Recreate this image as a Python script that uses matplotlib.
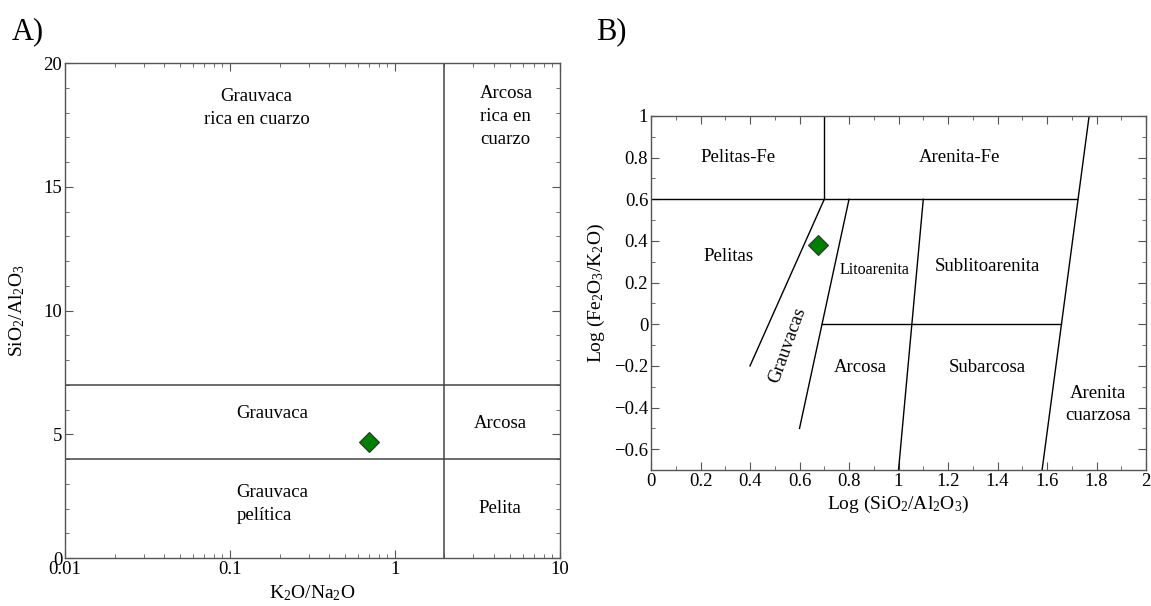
import matplotlib.pyplot as plt
import numpy as np

plt.rcParams['font.family'] = ['Liberation Serif', 'DejaVu Serif']
plt.rcParams['mathtext.fontset'] = 'custom'
plt.rcParams['mathtext.rm'] = 'Liberation Serif'
plt.rcParams['mathtext.it'] = 'Liberation Serif:italic'

# A) K2O/Na2O vs SiO2/Al2O3 (log x)
a_sample_x = [0.70]
a_sample_y = [4.7]
a_hlines = [7, 4]          # boundaries in SiO2/Al2O3
a_vline = 2                # boundary in K2O/Na2O
a_labels = [
    ("Grauvaca\nrica en cuarzo", 0.145, 18.2, 'center'),
    ("Arcosa\nrica en\ncuarzo", 3.3, 17.85, 'left'),
    ("Grauvaca", 0.110, 5.85, 'left'),
    ("Arcosa", 4.35, 5.42, 'center'),
    ("Grauvaca\npelítica", 0.110, 2.2, 'left'),
    ("Pelita", 4.35, 2.02, 'center'),
]

# B) Log(SiO2/Al2O3) vs Log(Fe2O3/K2O)
b_sample_x = [0.673]
b_sample_y = [0.38]
b_segments = [
    ([0.0, 1.72], [0.6, 0.6]),
    ([0.70, 0.70], [0.6, 1.0]),
    ([0.40, 0.70], [-0.2, 0.6]),
    ([0.60, 0.80], [-0.5, 0.6]),
    ([0.69, 1.655], [0.0, 0.0]),
    ([1.00, 1.10], [-0.7, 0.6]),
    ([1.58, 1.77], [-0.7, 1.0]),
]
b_labels = [
    ("Pelitas-Fe", 0.351, 0.80, 13.5, 0),
    ("Arenita-Fe", 1.246, 0.80, 13.5, 0),
    ("Pelitas", 0.312, 0.325, 13.5, 0),
    ("Litoarenita", 0.902, 0.26, 11.5, 0),
    ("Sublitoarenita", 1.36, 0.275, 13.5, 0),
    ("Grauvacas", 0.551, -0.10, 13.5, 70),
    ("Arcosa", 0.845, -0.21, 13.5, 0),
    ("Subarcosa", 1.357, -0.21, 13.5, 0),
    ("Arenita\ncuarzosa", 1.807, -0.385, 13.5, 0),
]

fig = plt.figure(figsize=(11.51, 6.06), dpi=100)

frame = '#555555'

# ---- panel A
ax1 = fig.add_axes([0.0565, 0.079, 0.4297, 0.817])
ax1.set_xscale('log')
ax1.set_xlim(0.01, 10)
ax1.set_ylim(0, 20)
for h in a_hlines:
    ax1.axhline(h, color='#444444', lw=1.1)
ax1.axvline(a_vline, color='#444444', lw=1.1)
for txt, x, y, ha in a_labels:
    ax1.text(x, y, txt, ha=ha, va='center', fontsize=13.5, linespacing=1.45,
             multialignment='left' if ha == 'left' else 'center')
ax1.plot(a_sample_x, a_sample_y, 'D', color='green', markeredgecolor='#333333',
         markersize=10, markeredgewidth=0.8)
ax1.set_xticks([0.01, 0.1, 1, 10])
ax1.set_xticklabels(['0.01', '0.1', '1', '10'])
ax1.set_yticks([0, 5, 10, 15, 20])
ax1.set_yticks(np.arange(0, 21, 1), minor=True)
ax1.set_xlabel('K$_2$O/Na$_2$O', fontsize=14, labelpad=4)
ax1.set_ylabel('SiO$_2$/Al$_2$O$_3$', fontsize=14, labelpad=12)

# ---- panel B
ax2 = fig.add_axes([0.5656, 0.2244, 0.4301, 0.5842])
ax2.set_xlim(0, 2)
ax2.set_ylim(-0.7, 1.0)
for xs, ys in b_segments:
    ax2.plot(xs, ys, color='black', lw=1.0)
for txt, x, y, fs, rot in b_labels:
    ax2.text(x, y, txt, ha='center', va='center', fontsize=fs, rotation=rot,
             linespacing=1.4)
ax2.plot(b_sample_x, b_sample_y, 'D', color='green', markeredgecolor='#333333',
         markersize=10, markeredgewidth=0.8)
ax2.set_xticks(np.arange(0, 2.01, 0.2))
ax2.set_xticklabels(['0', '0.2', '0.4', '0.6', '0.8', '1', '1.2', '1.4', '1.6', '1.8', '2'])
ax2.set_xticks(np.arange(0, 2.01, 0.1), minor=True)
ax2.set_yticks([-0.6, -0.4, -0.2, 0, 0.2, 0.4, 0.6, 0.8, 1])
ax2.set_yticklabels(['\u22120.6', '\u22120.4', '\u22120.2', '0', '0.2', '0.4', '0.6', '0.8', '1'])
ax2.set_yticks(np.arange(-0.7, 1.01, 0.1), minor=True)
ax2.set_xlabel('Log (SiO$_2$/Al$_2$O$_3$)', fontsize=14, labelpad=3)
ax2.set_ylabel('Log (Fe$_2$O$_3$/K$_2$O)', fontsize=14, labelpad=5)

for ax in (ax1, ax2):
    for s in ax.spines.values():
        s.set_color(frame)
        s.set_linewidth(1.0)
    ax.tick_params(which='both', direction='in', top=True, right=True,
                   color=frame, labelsize=13.5, pad=2)
    ax.tick_params(which='major', length=6)
    ax.tick_params(which='minor', length=3)

fig.text(0.010, 0.935, 'A)', fontsize=22)
fig.text(0.518, 0.935, 'B)', fontsize=22)

fig.savefig('out.png', dpi=100)
